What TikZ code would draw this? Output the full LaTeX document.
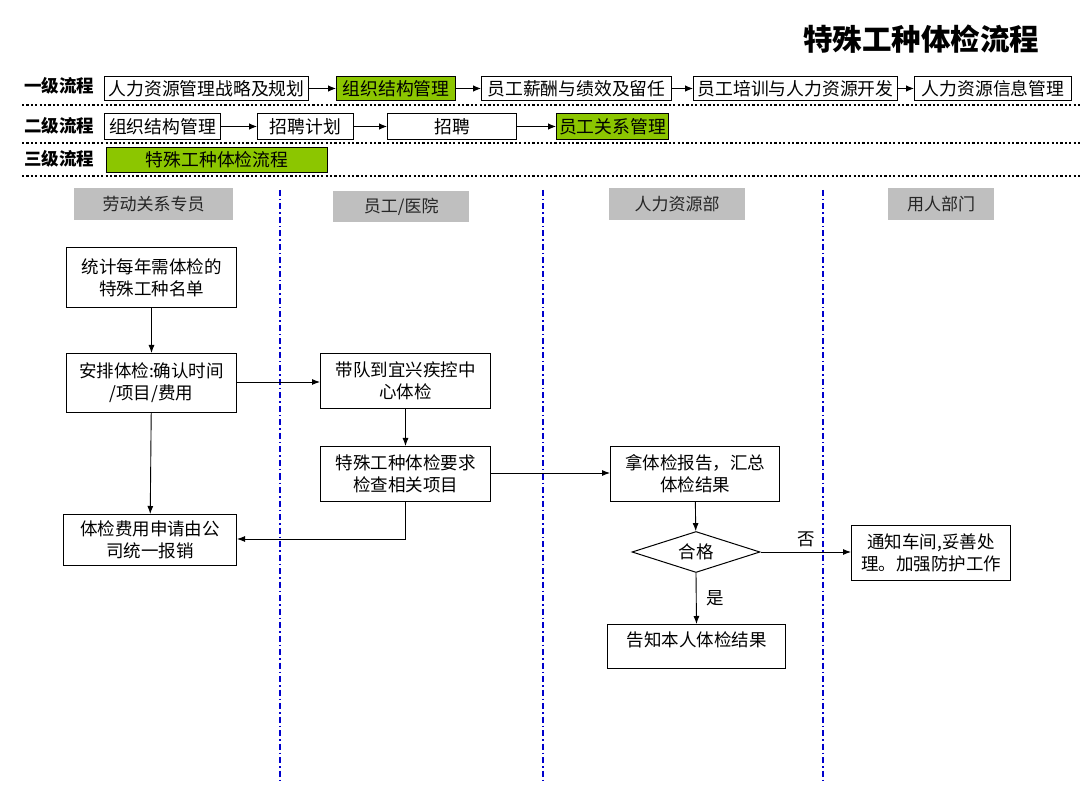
\documentclass[tikz,border=0pt]{standalone}
\usepackage{fontspec}
\setmainfont{Noto Sans CJK SC}
\usetikzlibrary{shapes.geometric,arrows.meta}
\begin{document}
\begin{tikzpicture}[x=1pt,y=-1pt,
  box/.style={draw=black,line width=1pt,fill=white,inner sep=0pt,font=\fontsize{17.5}{22}\selectfont,align=center,anchor=north west},
  topbox/.style={draw=black,line width=1pt,fill=white,inner sep=0pt,font=\fontsize{17.8}{20}\selectfont,anchor=north west},
  lanehead/.style={fill=gray!50,inner sep=0pt,font=\fontsize{17}{20}\selectfont,anchor=north west,text=black!85},
  lvl/.style={font=\fontsize{17.5}{20}\selectfont\bfseries,anchor=center},
  flow/.style={-{Latex[length=8pt,width=6pt]},line width=0.9pt},
  conn/.style={-{Latex[length=8pt,width=6.5pt]},line width=0.9pt},
  dotsep/.style={line width=2.2pt,dash pattern=on 2.2pt off 2.2pt},
  lanesep/.style={draw=blue!80!black,line width=1.2pt,dash pattern=on 6pt off 3pt on 1.5pt off 3pt}]
\useasboundingbox (0,0) rectangle (1080,810);
\definecolor{grn}{RGB}{140,198,0}
% title
\node[font=\fontsize{29.5}{32}\selectfont\bfseries] (title) at (921,39) {特殊工种体检流程};
% level labels
\node[lvl] (l1) at (59,86) {一级流程};
\node[lvl] (l2) at (59,126) {二级流程};
\node[lvl] (l3) at (59,159) {三级流程};
% row 1
\node[topbox,minimum width=204pt,minimum height=24pt] (t1) at (104,76) {人力资源管理战略及规划};
\node[topbox,fill=grn,minimum width=119pt,minimum height=24pt] (t2) at (336,76) {组织结构管理};
\node[topbox,minimum width=190pt,minimum height=24pt] (t3) at (481,76) {员工薪酬与绩效及留任};
\node[topbox,minimum width=204pt,minimum height=24pt] (t4) at (693,76) {员工培训与人力资源开发};
\node[topbox,minimum width=157pt,minimum height=24pt] (t5) at (914,76) {人力资源信息管理};
\draw[conn] (t1) -- (t2);
\draw[conn] (t2) -- (t3);
\draw[conn] (t3) -- (t4);
\draw[conn] (t4) -- (t5);
\draw[dotsep] (22,105) -- (1080,105);
% row 2
\node[topbox,minimum width=116pt,minimum height=26pt] (s1) at (104,113) {组织结构管理};
\node[topbox,minimum width=96pt,minimum height=26pt] (s2) at (257,113) {招聘计划};
\node[topbox,minimum width=129pt,minimum height=26pt] (s3) at (387,113) {招聘};
\node[topbox,fill=grn,minimum width=112pt,minimum height=26pt] (s4) at (556,113) {员工关系管理};
\draw[conn] (s1) -- (s2);
\draw[conn] (s2) -- (s3);
\draw[conn] (s3) -- (s4);
\draw[dotsep] (22,143) -- (1080,143);
% row 3
\node[topbox,fill=grn,minimum width=221pt,minimum height=25pt] (r1) at (106,147) {特殊工种体检流程};
\draw[dotsep] (22,176) -- (1080,176);
% lane headers
\node[lanehead,minimum width=159pt,minimum height=32pt] (h1) at (74,188) {劳动关系专员};
\node[lanehead,minimum width=136pt,minimum height=31pt] (h2) at (333,191) {员工/医院};
\node[lanehead,minimum width=136pt,minimum height=32pt] (h3) at (609,188) {人力资源部};
\node[lanehead,minimum width=106pt,minimum height=32pt] (h4) at (888,188) {用人部门};
% lane separators
\draw[lanesep] (280,190) -- (280,780);
\draw[lanesep] (543,190) -- (543,780);
\draw[lanesep] (823,190) -- (823,780);
% process boxes
\node[box,minimum width=170pt,minimum height=60pt] (a) at (66,247) {统计每年需体检的\\特殊工种名单};
\node[box,minimum width=170pt,minimum height=59pt] (b) at (66,353) {安排体检:确认时间\\/项目/费用};
\node[box,minimum width=170pt,minimum height=55pt] (c) at (320,353) {带队到宜兴疾控中\\心体检};
\node[box,minimum width=170pt,minimum height=55pt] (d) at (320,446) {特殊工种体检要求\\检查相关项目};
\node[box,minimum width=173pt,minimum height=51pt] (e) at (63,514) {体检费用申请由公\\司统一报销};
\node[box,minimum width=169pt,minimum height=55pt] (f) at (610,446) {拿体检报告，汇总\\体检结果};
\node[draw=black,line width=1pt,diamond,aspect=3.1,inner sep=0pt,minimum width=128pt,minimum height=41pt,font=\fontsize{17.5}{20}\selectfont] (g) at (696,552) {合格};
\node[box,minimum width=159pt,minimum height=55pt] (h) at (851,525) {通知车间,妥善处\\理。加强防护工作};
\node[box,minimum width=178pt,minimum height=44pt,text depth=14pt] (i) at (607,624) {告知本人体检结果};
% connectors
\draw[flow] (a) -- (b);
\draw[flow] (b.east |- 0,382) -- (c.west |- 0,382);
\draw[flow] (c) -- (d);
\draw[flow] (b) -- (e);
\draw[flow] (d.south) |- (e.east |- 0,539);
\draw[flow] (d.east |- 0,473) -- (f.west |- 0,473);
\draw[flow] (f) -- (g);
\draw[flow] (g.east) -- (h.west |- g.east) node[pos=0.5,above=1pt,font=\fontsize{17.5}{20}\selectfont] (no) {否};
\draw[flow] (g.south) -- (i.north) node[pos=0.5,right=6pt,font=\fontsize{17.5}{20}\selectfont] (yes) {是};
\end{tikzpicture}
\end{document}
